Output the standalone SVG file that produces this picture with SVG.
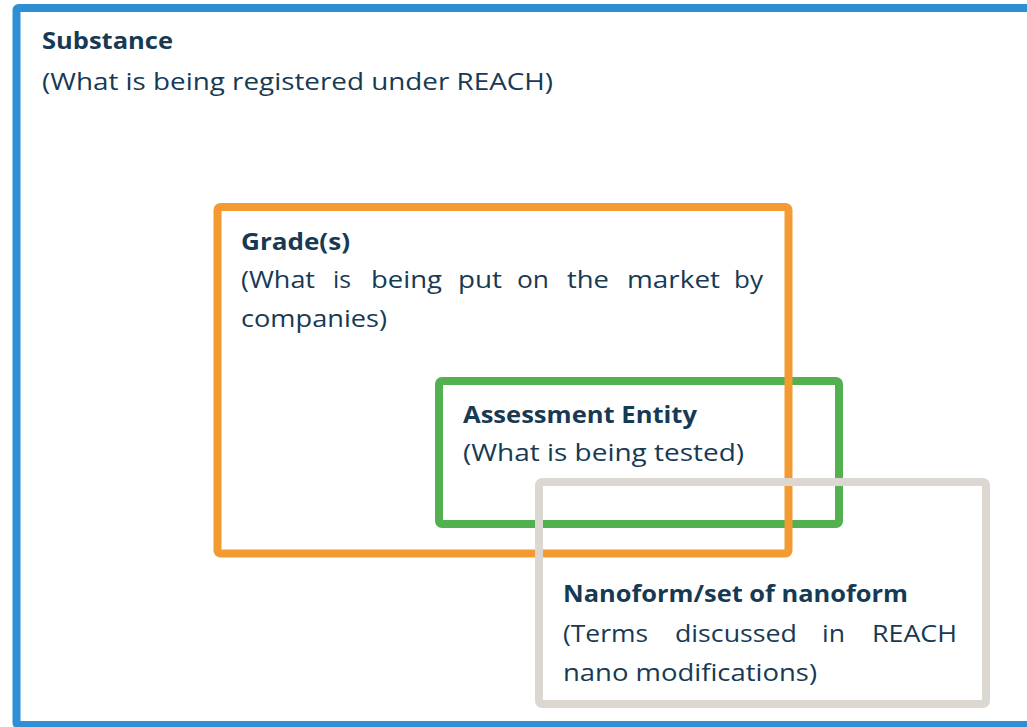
<svg xmlns="http://www.w3.org/2000/svg" width="1027" height="727" viewBox="0 0 1027 727">
  <style>
    .frame { fill: none; stroke-width: 8; stroke-linejoin: round; }
    .substance { stroke: #2f8fd5; }
    .grade { stroke: #f39a32; }
    .entity { stroke: #53b04e; }
    .nano { stroke: #dcd8d1; }
    text { font-family: "Open Sans", "Noto Sans", "DejaVu Sans", sans-serif; font-size: 24px; fill: #173a54; }
    .title { font-weight: bold; font-size: 23px; }
  </style>
  <rect width="1027" height="727" fill="#ffffff"/>

  <!-- Outer substance frame (runs past the right edge) -->
  <g id="substance">
    <rect class="frame substance" x="16.5" y="8" width="1030" height="717" rx="2"/>
    <text class="title" x="42" y="49" textLength="131" lengthAdjust="spacingAndGlyphs">Substance</text>
    <text x="42" y="90" textLength="511" lengthAdjust="spacingAndGlyphs">(What is being registered under REACH)</text>
  </g>

  <!-- Assessment entity sits beneath the grade frame -->
  <g id="assessment-entity">
    <rect class="frame entity" x="439" y="381" width="400" height="143" rx="3"/>
    <text class="title" x="463" y="423" textLength="234" lengthAdjust="spacingAndGlyphs">Assessment Entity</text>
    <text x="463" y="461" textLength="281" lengthAdjust="spacingAndGlyphs">(What is being tested)</text>
  </g>

  <g id="grades">
    <rect class="frame grade" x="217.5" y="207" width="571" height="346.5" rx="3"/>
    <text class="title" x="241" y="250" textLength="109" lengthAdjust="spacingAndGlyphs">Grade(s)</text>
    <!-- justified line: each word placed and sized on its own -->
    <text y="288"><tspan x="241" textLength="74" lengthAdjust="spacingAndGlyphs">(What</tspan><tspan x="333" textLength="18" lengthAdjust="spacingAndGlyphs">is</tspan><tspan x="371" textLength="71" lengthAdjust="spacingAndGlyphs">being</tspan><tspan x="458" textLength="44" lengthAdjust="spacingAndGlyphs">put</tspan><tspan x="517" textLength="32" lengthAdjust="spacingAndGlyphs">on</tspan><tspan x="567" textLength="42" lengthAdjust="spacingAndGlyphs">the</tspan><tspan x="627" textLength="93" lengthAdjust="spacingAndGlyphs">market</tspan><tspan x="734" textLength="29" lengthAdjust="spacingAndGlyphs">by</tspan></text>
    <text x="241" y="327" textLength="146" lengthAdjust="spacingAndGlyphs">companies)</text>
  </g>

  <!-- Nanoform frame is drawn on top of the others -->
  <g id="nanoform">
    <rect class="frame nano" x="539" y="482" width="447" height="222" rx="3"/>
    <text class="title" x="563" y="602" textLength="345" lengthAdjust="spacingAndGlyphs">Nanoform/set of nanoform</text>
    <text y="642"><tspan x="563" textLength="85" lengthAdjust="spacingAndGlyphs">(Terms</tspan><tspan x="675" textLength="122" lengthAdjust="spacingAndGlyphs">discussed</tspan><tspan x="822" textLength="23" lengthAdjust="spacingAndGlyphs">in</tspan><tspan x="872" textLength="85" lengthAdjust="spacingAndGlyphs">REACH</tspan></text>
    <text x="563" y="681" textLength="254" lengthAdjust="spacingAndGlyphs">nano modifications)</text>
  </g>

  <g id="connectors"/>
</svg>
